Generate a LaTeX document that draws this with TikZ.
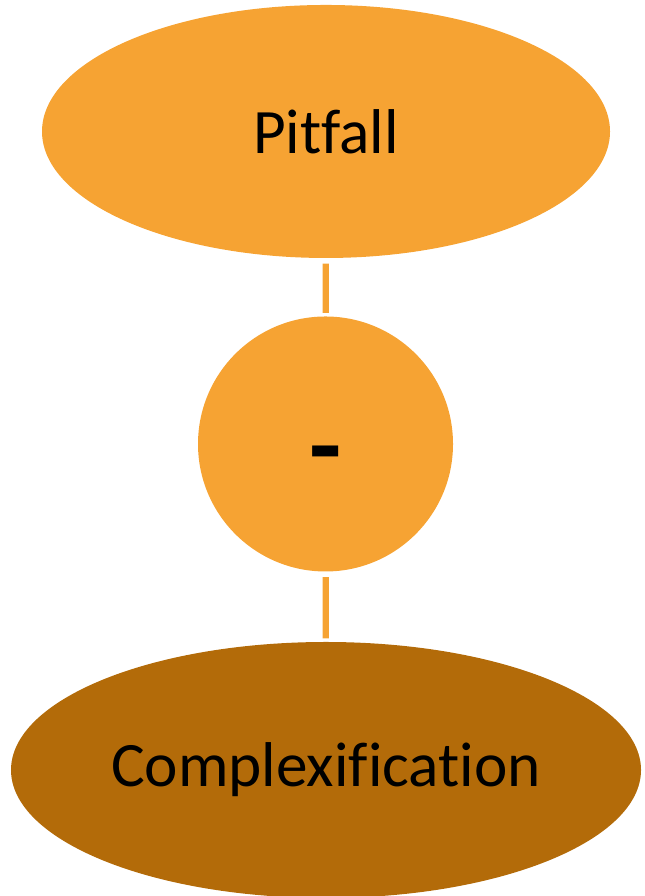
\documentclass[tikz,border=0pt]{standalone}
\usepackage{fontspec}
\setmainfont[Ligatures=NoCommon]{Carlito}
\usetikzlibrary{shapes.geometric}
\definecolor{pitorange}{HTML}{F6A333}
\definecolor{pitbrown}{HTML}{B36B09}
\tikzset{
  blob/.style={ellipse, fill=pitorange, inner sep=0pt, font=\fontsize{18}{20}\selectfont},
  link/.style={draw=pitorange, line width=1.8pt, shorten <=0.05cm, shorten >=0.03cm}
}

\begin{document}
\begin{tikzpicture}
\useasboundingbox (0,0) rectangle (6.44,8.96);
\node[blob, minimum width=5.68cm, minimum height=2.53cm] (pitfall) at (3.26,7.645) {Pitfall};
\node[blob, circle, minimum size=2.55cm, font=\fontsize{30}{32}\selectfont\bfseries] (minus) at (3.255,4.52) {\raisebox{-10.6pt}[0pt][0pt]{-}};
\node[blob, fill=pitbrown, minimum width=6.30cm, minimum height=2.56cm] (complex) at (3.26,1.26) {Complexification};
\draw[link] (pitfall) -- (minus);
\draw[link] (minus) -- (complex);
\end{tikzpicture}
\end{document}
